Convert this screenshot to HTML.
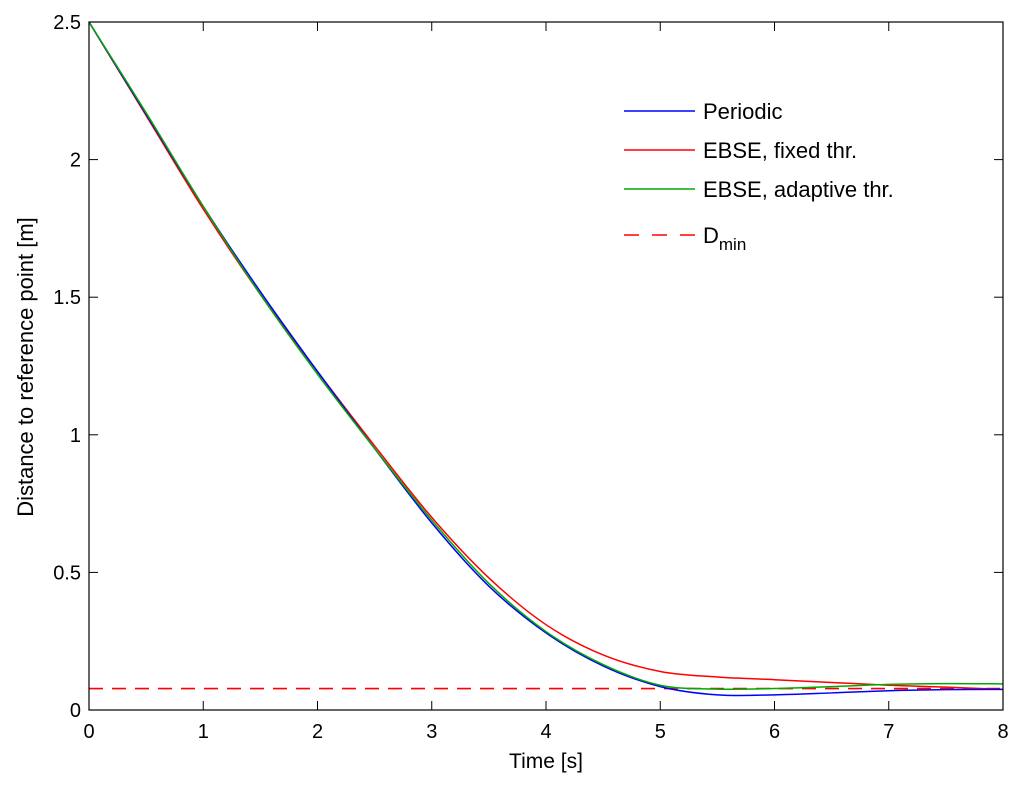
<!DOCTYPE html>
<html><head><meta charset="utf-8"><style>
html,body{margin:0;padding:0;background:#fff;}
svg{display:block;font-family:"Liberation Sans",Arial,sans-serif;}
</style></head><body>
<svg id="chart" width="1024" height="787">
<rect x="0" y="0" width="1024" height="787" fill="#fff"/>
<g id="plot"></g>
</svg>
<script>
const times=[0,0.5,1,1.5,2,2.5,3,3.5,4,4.5,5,5.5,6,6.5,7,7.5,8];
const periodic=[2.5,2.165,1.83,1.52,1.23,0.95,0.68,0.45,0.28,0.16,0.085,0.055,0.055,0.062,0.07,0.074,0.075];
const ebseFixed=[2.5,2.16,1.82,1.51,1.23,0.96,0.70,0.48,0.31,0.20,0.14,0.12,0.11,0.10,0.09,0.083,0.075];
const ebseAdaptive=[2.5,2.17,1.83,1.51,1.22,0.95,0.69,0.46,0.285,0.165,0.09,0.076,0.078,0.085,0.093,0.096,0.095];
const dmin=0.078;
const xTicks=[0,1,2,3,4,5,6,7,8];
const yTicks=[0,0.5,1,1.5,2,2.5];
const yTickLabels=["0","0.5","1","1.5","2","2.5"];

const L=89,R=1003,T=22,B=710;
const sx=v=>L+(v-0)/8*(R-L);
const sy=v=>B-(v-0)/2.5*(B-T);
const NS="http://www.w3.org/2000/svg";
const g=document.getElementById('plot');
function mk(tag,attrs,parent){const e=document.createElementNS(NS,tag);for(const k in attrs)e.setAttribute(k,attrs[k]);(parent||g).appendChild(e);return e;}

function path(xs,ys){
  const p=xs.map((x,i)=>[sx(x),sy(ys[i])]);
  let d=`M${p[0][0]},${p[0][1]}`;
  for(let i=0;i<p.length-1;i++){
    const p0=p[Math.max(i-1,0)],p1=p[i],p2=p[i+1],p3=p[Math.min(i+2,p.length-1)];
    const c1=[p1[0]+(p2[0]-p0[0])/6,p1[1]+(p2[1]-p0[1])/6];
    const c2=[p2[0]-(p3[0]-p1[0])/6,p2[1]-(p3[1]-p1[1])/6];
    d+=` C${c1[0]},${c1[1]} ${c2[0]},${c2[1]} ${p2[0]},${p2[1]}`;
  }
  return d;
}

xTicks.forEach(t=>{
  const x=sx(t);
  const a=mk('line',{x1:x,x2:x,y1:B,y2:B-9,stroke:'#000','stroke-width':1});
  
  
  const b=mk('line',{x1:x,x2:x,y1:T,y2:T+9,stroke:'#000','stroke-width':1});
  
  
  const tx=mk('text',{x:x,y:B+28,'text-anchor':'middle','font-size':20});
  tx.textContent=String(t);
  
  
});
yTicks.forEach((t,i)=>{
  const y=sy(t);
  const a=mk('line',{x1:L,x2:L+9,y1:y,y2:y,stroke:'#000','stroke-width':1});
  
  
  const b=mk('line',{x1:R,x2:R-9,y1:y,y2:y,stroke:'#000','stroke-width':1});
  
  
  const tx=mk('text',{x:L-8,y:y+7,'text-anchor':'end','font-size':20});
  tx.textContent=yTickLabels[i];
  
  
});

const dl=mk('line',{x1:L,x2:R,y1:sy(dmin),y2:sy(dmin),stroke:'#f00','stroke-width':1.6,'stroke-dasharray':'14,9'});



const series=[[ebseFixed,'#f00','ebse-fixed-line'],[periodic,'#00f','periodic-line'],[ebseAdaptive,'#0a0','ebse-adaptive-line']];
series.forEach(s=>{
  const p=mk('path',{d:path(times,s[0]),fill:'none',stroke:s[1],'stroke-width':1.5});
  
  
});

const box=mk('rect',{x:L,y:T,width:R-L,height:B-T,fill:'none',stroke:'#000','stroke-width':1.2});



const xt=mk('text',{x:546,y:768,'text-anchor':'middle','font-size':21});
xt.textContent='Time [s]';


const yt=mk('text',{x:0,y:0,'text-anchor':'middle','font-size':22,transform:'translate(33,367) rotate(-90)'});
yt.textContent='Distance to reference point [m]';



const leg=mk('g',{});


const entries=[['Periodic','#00f',111],['EBSE, fixed thr.','#f00',150],['EBSE, adaptive thr.','#0a0',189]];
entries.forEach(e=>{
  const ln=mk('line',{x1:624,x2:695,y1:e[2],y2:e[2],stroke:e[1],'stroke-width':1.5},leg);
  
  
  const t=mk('text',{x:703,y:e[2]+8,'font-size':22},leg);
  t.textContent=e[0];
  
  
});
const dln=mk('line',{x1:624,x2:695,y1:235,y2:235,stroke:'#f00','stroke-width':1.5,'stroke-dasharray':'15,13'},leg);


const dt=mk('text',{x:703,y:243,'font-size':22},leg);


dt.innerHTML='D<tspan font-size="17" dy="7">min</tspan>';
</script>
</body></html>
